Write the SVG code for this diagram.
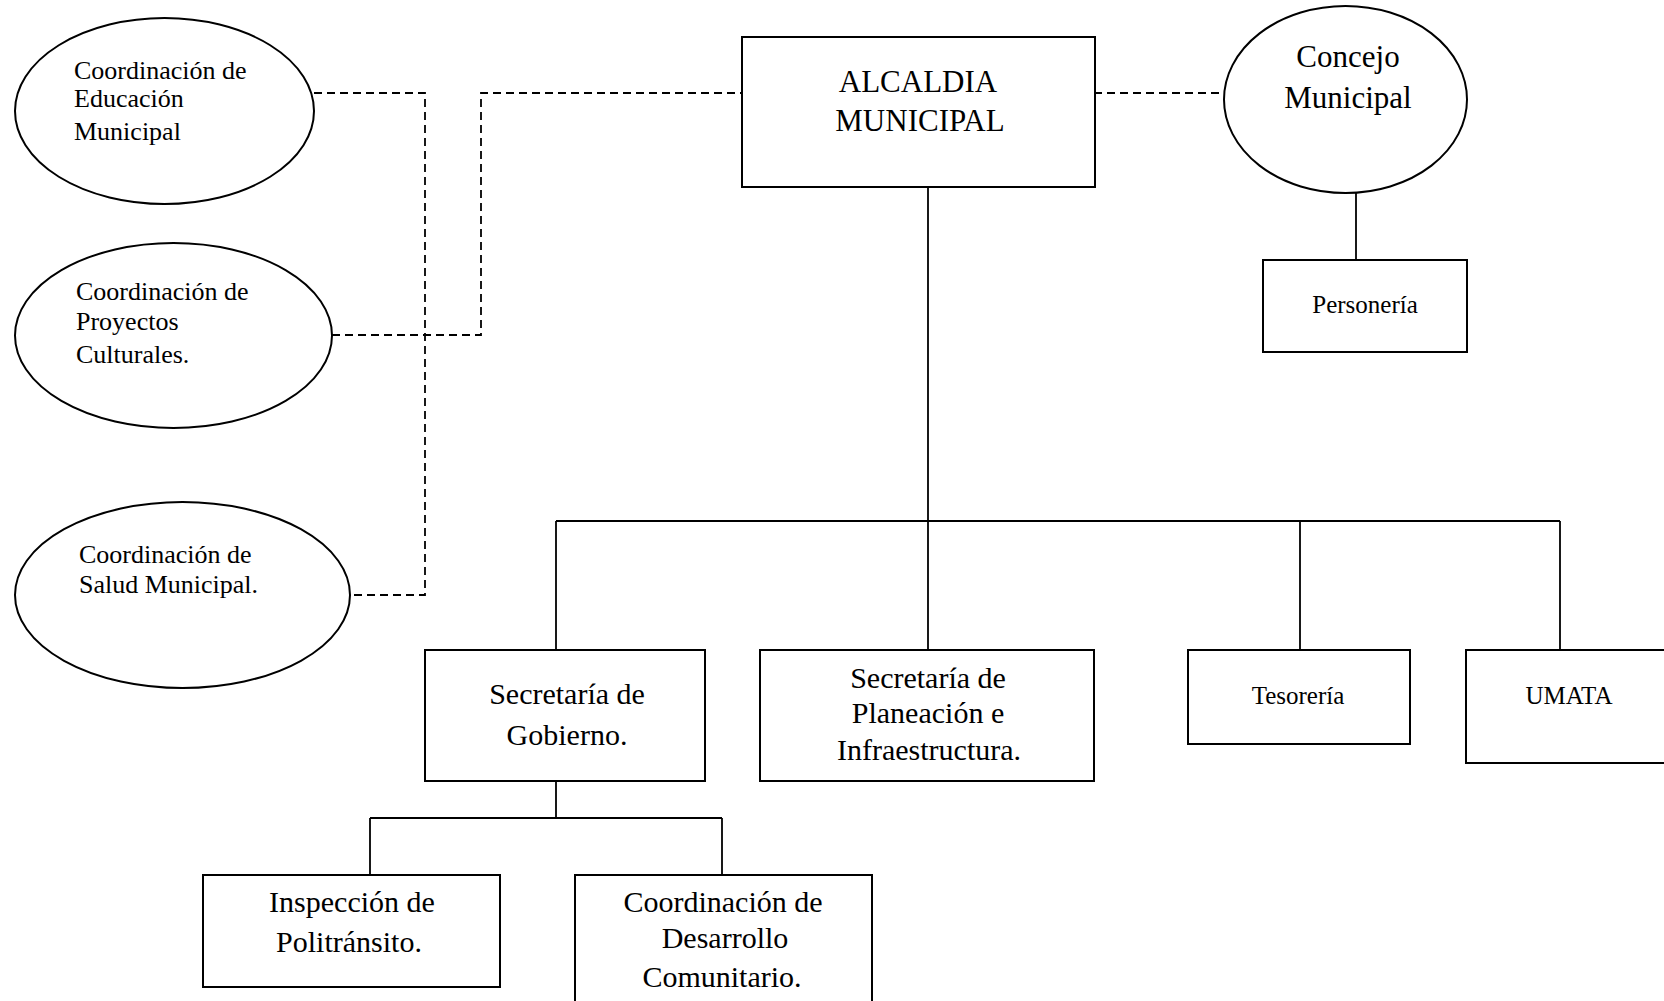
<svg xmlns="http://www.w3.org/2000/svg" width="1664" height="1001" viewBox="0 0 1664 1001">
<style>
.shape{fill:#fff;stroke:#000;stroke-width:2}
.ln{fill:none;stroke:#000;stroke-width:1.8}
.dash{fill:none;stroke:#000;stroke-width:1.8;stroke-dasharray:8 5}
text{font-family:"Liberation Serif","Times New Roman",serif;fill:#000}
.s26{font-size:26px}
.s25{font-size:25px;text-anchor:middle}
.s30{font-size:30px;text-anchor:middle}
.s31{font-size:31px;text-anchor:middle}
</style>
<rect width="1664" height="1001" fill="#fff"/>
<g id="connectors">
<path class="dash" d="M314 93 H425 V595 H350"/>
<path class="dash" d="M332 335 H481 V93 H742"/>
<path class="dash" d="M1094 93 H1224"/>
<path class="ln" d="M928 187 V521"/>
<path class="ln" d="M556 521 H1560"/>
<path class="ln" d="M556 521 V650 M928 521 V650 M1300 521 V650 M1560 521 V650"/>
<path class="ln" d="M556 781 V818 M370 818 H722 M370 818 V875 M722 818 V875"/>
<path class="ln" d="M1356 186 V260"/>
</g>
<g id="educacion">
<ellipse class="shape" cx="164.5" cy="111" rx="149.5" ry="93"/>
<text class="s26" x="74" y="79">Coordinación de</text>
<text class="s26" x="74" y="107">Educación</text>
<text class="s26" x="74" y="140">Municipal</text>
</g>
<g id="proyectos">
<ellipse class="shape" cx="173.5" cy="335.5" rx="158.5" ry="92.5"/>
<text class="s26" x="76" y="300">Coordinación de</text>
<text class="s26" x="76" y="330">Proyectos</text>
<text class="s26" x="76" y="363">Culturales.</text>
</g>
<g id="salud">
<ellipse class="shape" cx="182.5" cy="595" rx="167.5" ry="93"/>
<text class="s26" x="79" y="563">Coordinación de</text>
<text class="s26" x="79" y="593">Salud Municipal.</text>
</g>
<g id="alcaldia">
<rect class="shape" x="742" y="37" width="353" height="150"/>
<text class="s31" x="918" y="92">ALCALDIA</text>
<text class="s31" x="920" y="131">MUNICIPAL</text>
</g>
<g id="concejo">
<ellipse class="shape" cx="1345.5" cy="99.5" rx="121.5" ry="93.5"/>
<text class="s31" x="1348" y="67">Concejo</text>
<text class="s31" x="1348" y="108">Municipal</text>
</g>
<g id="personeria">
<rect class="shape" x="1263" y="260" width="204" height="92"/>
<text class="s25" x="1365" y="313">Personería</text>
</g>
<g id="gobierno">
<rect class="shape" x="425" y="650" width="280" height="131"/>
<text class="s30" x="567" y="704">Secretaría de</text>
<text class="s30" x="567" y="745">Gobierno.</text>
</g>
<g id="planeacion">
<rect class="shape" x="760" y="650" width="334" height="131"/>
<text class="s30" x="928" y="688">Secretaría de</text>
<text class="s30" x="928" y="723">Planeación e</text>
<text class="s30" x="929" y="760">Infraestructura.</text>
</g>
<g id="tesoreria">
<rect class="shape" x="1188" y="650" width="222" height="94"/>
<text class="s25" x="1298" y="704">Tesorería</text>
</g>
<g id="umata">
<rect class="shape" x="1466" y="650" width="210" height="113"/>
<text class="s25" x="1569" y="704">UMATA</text>
</g>
<g id="inspeccion">
<rect class="shape" x="203" y="875" width="297" height="112"/>
<text class="s30" x="352" y="912">Inspección de</text>
<text class="s30" x="349" y="952">Politránsito.</text>
</g>
<g id="desarrollo">
<rect class="shape" x="575" y="875" width="297" height="140"/>
<text class="s30" x="723" y="912">Coordinación de</text>
<text class="s30" x="725" y="948">Desarrollo</text>
<text class="s30" x="722" y="987">Comunitario.</text>
</g>
</svg>
